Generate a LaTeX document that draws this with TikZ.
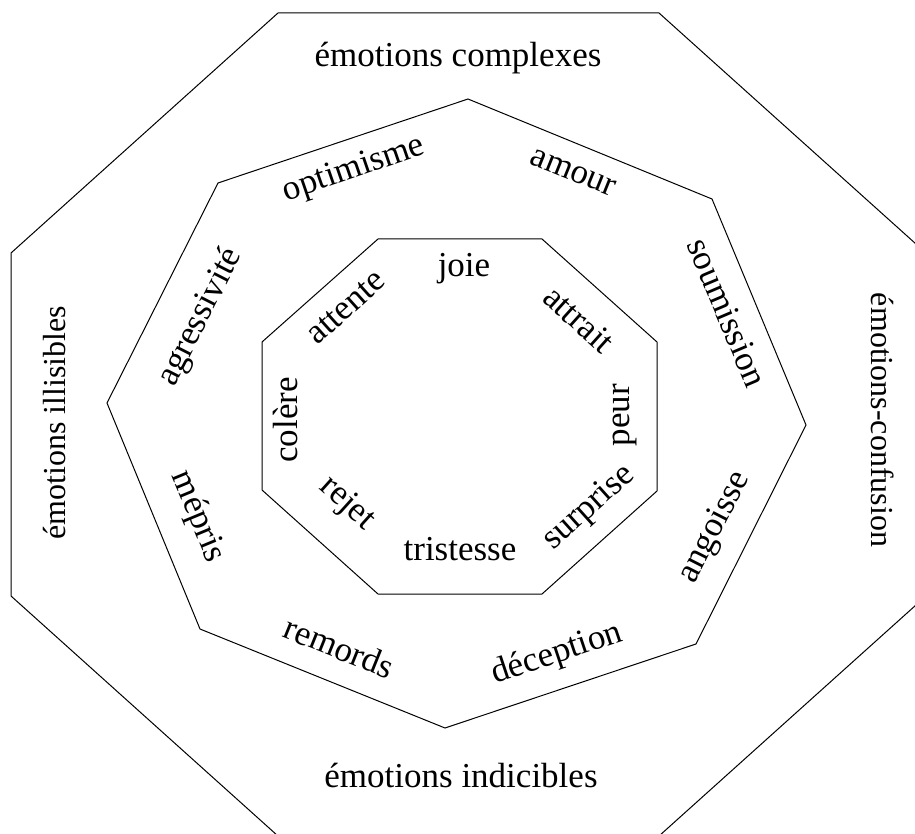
\documentclass[tikz,border=0pt]{standalone}
\usepackage{fontspec}
\setmainfont{Liberation Serif}
\begin{document}
\begin{tikzpicture}[x=1pt,y=-1pt,
    ring/.style={draw=black,line width=1pt,line join=miter},
    lbl/.style={anchor=mid,inner sep=0pt,font=\fontsize{35}{40}\selectfont}]
	\useasboundingbox (0,0) rectangle (915,834);
	\clip (0,0) rectangle (915,834);
	% outer ring
	\draw[ring] (278,13) -- (659,13) -- (926,253) -- (926,596) -- (659,836) -- (278,836) -- (11,596) -- (11,253) -- cycle;
	\node[lbl] (complexes) at (458,64) {émotions complexes};
	\node[lbl] (indicibles) at (461,785) {émotions indicibles};
	\node[lbl,rotate=90,font=\fontsize{32}{38}\selectfont] (illisibles) at (63,423) {émotions illisibles};
	\node[lbl,rotate=-90,font=\fontsize{32}{38}\selectfont] (confusion) at (874,420) {émotions-confusion};
	% middle ring
	\draw[ring] (468,99) -- (712,199) -- (806,425) -- (696,644) -- (445,728) -- (200,629) -- (107,403) -- (218,183) -- cycle;
	\node[lbl,rotate=19] (optimisme) at (356,175) {optimisme};
	\node[lbl,rotate=-22] (amour) at (571,178) {amour};
	\node[lbl,rotate=-67] (soumission) at (719,316) {soumission};
	\node[lbl,rotate=63] (angoisse) at (720,530) {angoisse};
	\node[lbl,rotate=18.5] (deception) at (559,660) {déception};
	\node[lbl,rotate=-22] (remords) at (336,656) {remords};
	\node[lbl,rotate=-67.5] (mepris) at (192,519) {mépris};
	\node[lbl,rotate=63] (agressivite) at (206,320) {agressivité};
	% inner ring
	\draw[ring] (378,239) -- (542,239) -- (657,342) -- (657,491) -- (542,594) -- (378,594) -- (262,490) -- (262,342) -- cycle;
	\node[lbl] (joie) at (464,274) {joie};
	\node[lbl,rotate=-42] (attrait) at (573,326) {attrait};
	\node[lbl,rotate=90] (peur) at (627,415) {peur};
	\node[lbl,rotate=42] (surprise) at (593,512) {surprise};
	\node[lbl] (tristesse) at (460,558) {tristesse};
	\node[lbl,rotate=-42] (rejet) at (343,508) {rejet};
	\node[lbl,rotate=90] (colere) at (295,420) {colère};
	\node[lbl,rotate=42] (attente) at (351,313) {attente};
\end{tikzpicture}
\end{document}
